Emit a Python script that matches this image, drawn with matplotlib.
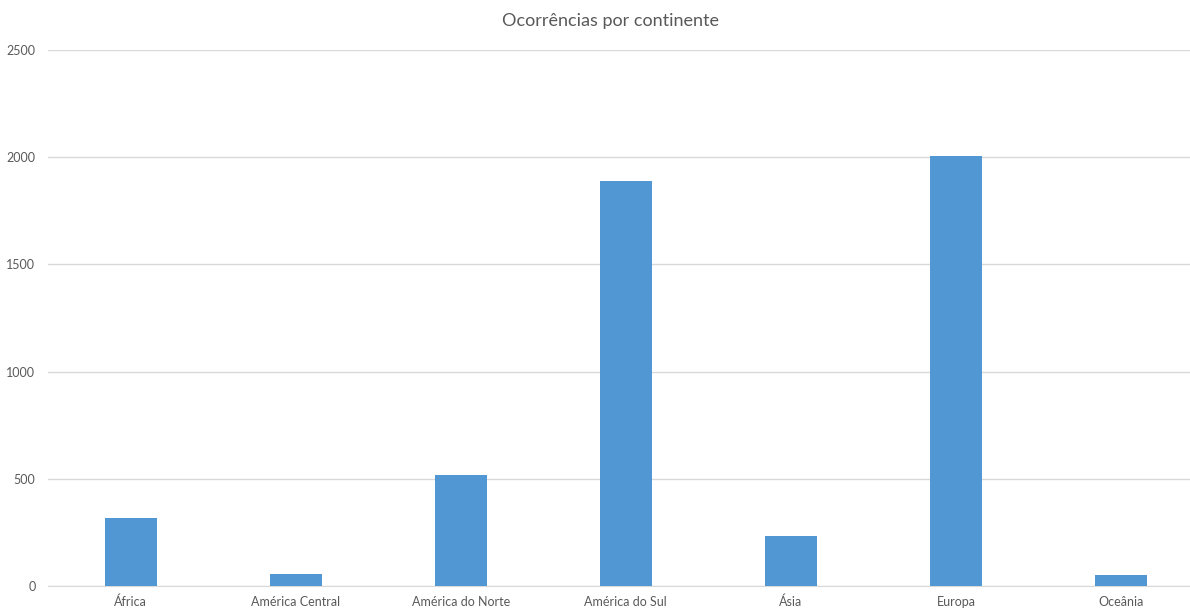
import matplotlib.pyplot as plt

continentes = ['África', 'América Central', 'América do Norte', 'América do Sul',
               'Ásia', 'Europa', 'Oceânia']
ocorrencias = [318, 56, 517, 1889, 233, 2007, 50]
yticks = [0, 500, 1000, 1500, 2000, 2500]

plt.rcParams['font.family'] = ['Lato', 'DejaVu Sans']

fig = plt.figure(figsize=(11.9, 6.08), dpi=100)
# eixo maior que a figura: a última categoria fica cortada à direita
ax = fig.add_axes([0.0403, 0.0362, 0.9712, 0.8816])

x = range(len(continentes))
ax.bar(x, ocorrencias, width=0.315, color='#5197D3', zorder=3)

ax.set_xlim(-0.5, len(continentes) - 0.5)
ax.set_ylim(0, 2500)
ax.set_yticks(yticks)
ax.set_xticks(list(x))
ax.set_xticklabels(continentes)

ax.grid(axis='y', color='#D9D9D9', linewidth=1, zorder=0)
for s in ['top', 'right', 'left']:
    ax.spines[s].set_visible(False)
ax.spines['bottom'].set_color('#D9D9D9')
ax.tick_params(axis='both', length=0, labelsize=9, labelcolor='#595959')
ax.tick_params(axis='y', pad=9)
ax.tick_params(axis='x', pad=7)

fig.text(0.513, 0.965, 'Ocorrências por continente', ha='center', va='center',
         fontsize=13, color='#595959')

fig.savefig('out.png', dpi=100, facecolor='white')
